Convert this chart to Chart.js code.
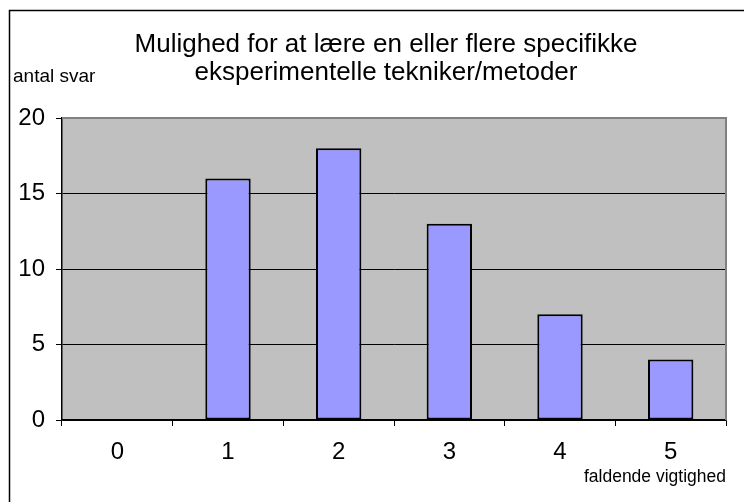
<!DOCTYPE html>
<html>
<head>
<meta charset="utf-8">
<script src="https://cdn.jsdelivr.net/npm/chart.js@4/dist/chart.umd.min.js"></script>
<style>
  body { margin: 0; background: #fff; }
  canvas { display: block; }
</style>
</head>
<body>
<canvas id="myChart" width="744" height="502"></canvas>
<script>
const categories = ["0", "1", "2", "3", "4", "5"];
const answers = [0, 16, 18, 13, 7, 4];
const titleLines = ["Mulighed for at lære en eller flere specifikke", "eksperimentelle tekniker/metoder"];
const yLabel = "antal svar";
const xLabel = "faldende vigtighed";

const FONT = "'Liberation Sans', Arial, sans-serif";

// background, plot frame and free-standing texts
const decor = {
  id: "decor",
  beforeDraw(chart) {
    const { ctx, chartArea: a } = chart;
    ctx.save();
    ctx.fillStyle = "#fff";
    ctx.fillRect(0, 0, chart.width, chart.height);
    ctx.fillStyle = "#c0c0c0";
    ctx.fillRect(a.left, a.top, a.right - a.left, a.bottom - a.top);
    ctx.restore();
  },
  afterDraw(chart) {
    const { ctx, chartArea: a } = chart;
    ctx.save();
    ctx.strokeStyle = "#808080";
    ctx.lineWidth = 2;
    ctx.beginPath();
    ctx.moveTo(a.left, a.top);
    ctx.lineTo(a.right, a.top);
    ctx.lineTo(a.right, a.bottom);
    ctx.stroke();

    ctx.strokeStyle = "#000";
    ctx.lineWidth = 1.5;
    ctx.strokeRect(9.5, 10.5, 900, 700);

    ctx.fillStyle = "#000";
    ctx.textAlign = "center";
    ctx.textBaseline = "middle";
    ctx.font = "26px " + FONT;
    ctx.fillText(titleLines[0], 386, 45);
    ctx.fillText(titleLines[1], 386, 73);

    ctx.font = "19px " + FONT;
    ctx.textAlign = "left";
    ctx.fillText(yLabel, 13, 77);
    ctx.font = "17.5px " + FONT;
    ctx.textAlign = "right";
    ctx.fillText(xLabel, 726, 477);
    ctx.restore();
  },
};

new Chart(document.getElementById("myChart").getContext("2d"), {
  type: "bar",
  data: {
    labels: categories,
    datasets: [
      {
        data: answers,
        backgroundColor: "#9999ff",
        borderColor: "#000",
        borderWidth: 2,
        borderSkipped: false,
        barPercentage: 0.41,
        categoryPercentage: 1,
      },
    ],
  },
  options: {
    responsive: false,
    devicePixelRatio: 1,
    animation: false,
    layout: { padding: { top: 118, right: 18, left: 0, bottom: 0 } },
    plugins: { legend: { display: false }, tooltip: { enabled: false } },
    scales: {
      x: {
        offset: true,
        grid: {
          offset: true,
          drawOnChartArea: false,
          drawTicks: true,
          tickLength: 6,
          color: "#000",
        },
        border: { color: "#000", width: 1.5 },
        ticks: { color: "#000", font: { size: 24, family: FONT }, padding: 12 },
        afterFit(scale) { scale.height = 82; },
      },
      y: {
        min: 0,
        max: 20,
        ticks: { stepSize: 5, color: "#000", font: { size: 24, family: FONT }, padding: 11 },
        grid: {
          color: (c) => (c.tick && c.tick.value === 20 ? "#808080" : "#000"),
          tickColor: "#000",
          tickLength: 6,
        },
        border: { color: "#000", width: 1.5 },
        afterFit(scale) { scale.width = 62; },
      },
    },
  },
  plugins: [decor],
});
</script>
</body>
</html>
